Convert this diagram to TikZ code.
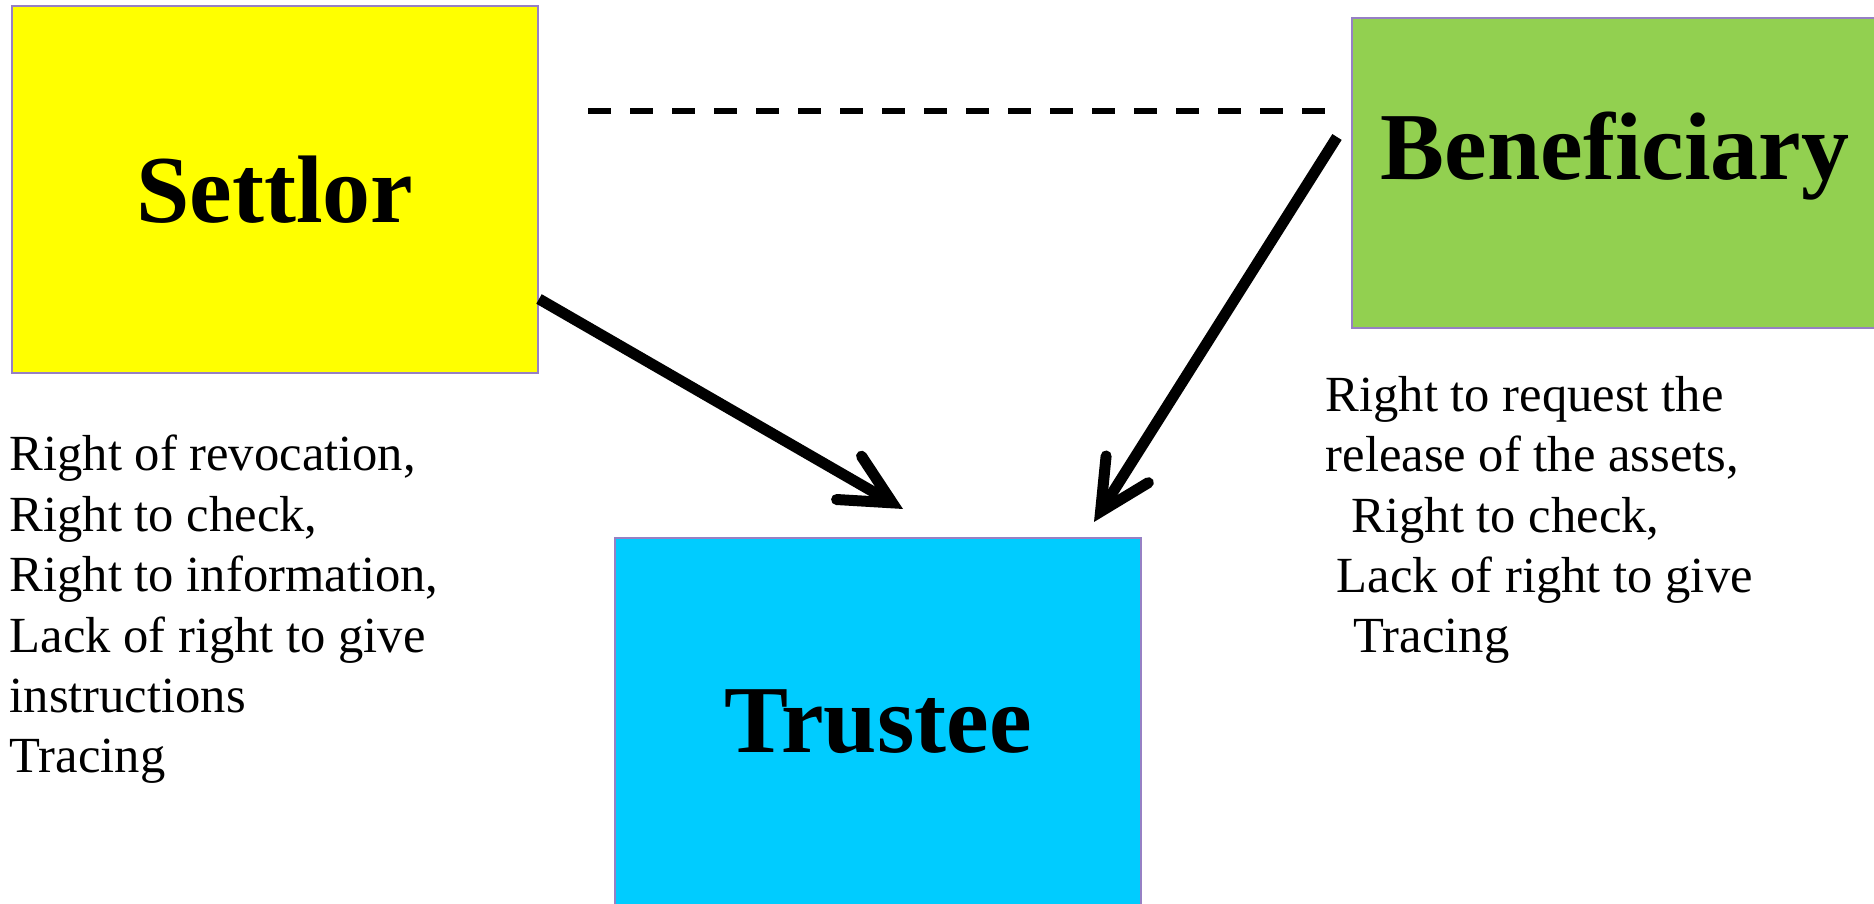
\documentclass[tikz,border=0pt]{standalone}
\usepackage{fontspec}
\setmainfont{Liberation Serif}
\usetikzlibrary{arrows.meta}
\definecolor{boxline}{RGB}{150,128,196}
\definecolor{setfill}{RGB}{255,255,0}
\definecolor{benfill}{RGB}{146,208,80}
\definecolor{trufill}{RGB}{0,204,255}
\begin{document}
\begin{tikzpicture}[x=0.1mm,y=-0.1mm,
  party/.style={draw=boxline, line width=0.2mm, minimum width=52.6mm,
    minimum height=36.7mm, inner sep=0pt},
  title/.style={inner sep=0pt, font=\fontsize{27.3}{33}\selectfont\bfseries},
  rights/.style={align=left, anchor=base west, inner sep=0pt,
    font=\fontsize{14.4}{17.2}\selectfont},
  link/.style={line width=1.1mm,
    -{Straight Barb[length=5mm,width=5mm,line cap=round]}},
  tie/.style={line width=0.6mm, dash pattern=on 2.3mm off 1.9mm}]
\useasboundingbox (0,0) rectangle (1874,904);

% the three parties
\node[party, fill=setfill, title] (set) at (275,189.5) {Settlor};
\node[party, fill=benfill, minimum height=31mm] (ben) at (1615,173) {};
\node[title] (benlbl) at ([yshift=1.7mm]ben.center) {Beneficiary};
\node[party, fill=trufill, title] (tru) at (878,721.5) {Trustee};

% rights of each party (anchored at the baseline of the last line)
\node[rights] (setrights) at (9,773) {Right of revocation,\\
  Right to check,\\
  Right to information,\\
  Lack of right to give\\
  instructions\\
  Tracing};
\node[rights] (benrights) at (1325,653) {Right to request the\\
  release of the assets,\\
  \hspace*{2.6mm}Right to check,\\
  \hspace*{1.1mm}Lack of right to give\\
  \hspace*{2.8mm}Tracing};

% connectors
\coordinate (dashA) at (588,111);
\coordinate (dashB) at (1327,111);
\coordinate (tipS) at (903,509);
\coordinate (tipB) at (1094,522);
\draw[tie] (dashA) -- (dashB);
\draw[link] ([yshift=-10.95mm]set.east) -- (tipS);
\draw[link] ([xshift=-1.4mm,yshift=3.6mm]ben.west) -- (tipB);
\end{tikzpicture}
\end{document}
